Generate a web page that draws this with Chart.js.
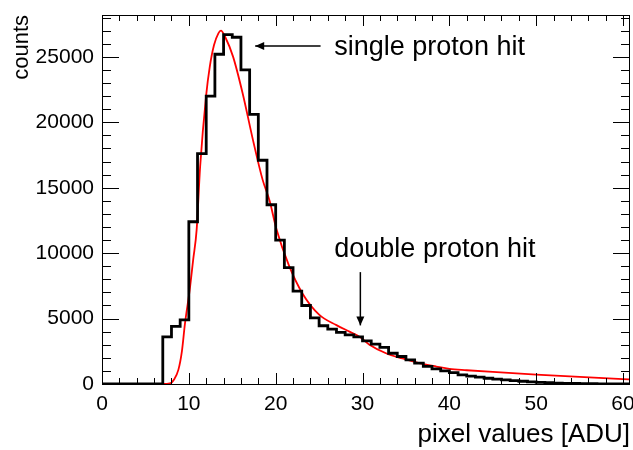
<!DOCTYPE html>
<html lang="en">
<head>
<meta charset="UTF-8">
<title>pixel values histogram</title>
<script src="https://cdn.jsdelivr.net/npm/chart.js@4.4.1/dist/chart.umd.min.js"></script>
<style>
  html, body { margin: 0; padding: 0; background: #fff; }
  #wrap { width: 633px; height: 450px; }
</style>
</head>
<body>
<div id="wrap"><canvas id="histo"></canvas></div>
<script>
// counts per 1 ADU bin, bin i covers [i, i+1)
const binCounts = [
  0, 0, 0, 0, 0, 0, 0, 3600, 4400, 4900,
  12400, 17600, 22000, 25200, 26700, 26500, 24000, 20600, 17100, 13700,
  11000, 8900, 7100, 6000, 5050, 4450, 4200, 3950, 3750, 3600,
  3300, 3050, 2800, 2350, 2100, 1850, 1600, 1350, 1150, 1000,
  870, 700, 600, 520, 440, 370, 310, 260, 210, 170,
  130, 100, 70, 50, 40, 30, 20, 15, 10, 10,
  5
];

// red fit curve
const fitX = [0, 7, 7.8, 8.3, 8.8, 9.2, 9.55, 10.1, 10.5, 10.9, 11.3, 12.0, 12.4, 12.9, 13.4, 13.7,
  14.2, 15.1, 16.2, 17.4, 18.5, 19.3, 20.1, 21.5, 23.1, 25.0, 27.0, 28.5, 29.7, 30.8,
  32.7, 34.6, 36.5, 38.5, 40, 42, 45, 50, 55, 60, 61];
const fitY = [0, 0, 40, 350, 1100, 2500, 4600, 7200, 9500, 11800, 16600, 22100, 24200, 25900, 26800, 27000,
  26500, 25000, 22200, 18600, 15600, 14000, 11800, 9100, 6900, 5300, 4500, 4000, 3600, 3000,
  2350, 1950, 1600, 1330, 1150, 1050, 920, 720, 540, 370, 340];

const xTicks = [0, 10, 20, 30, 40, 50, 60];
const yTicks = [0, 5000, 10000, 15000, 20000, 25000];
const xMax = 60.8;
const yMax = 28200;

const annots = [
  { text: 'single proton hit', x: 26.75, y: 25150 },
  { text: 'double proton hit', x: 26.75, y: 9700 }
];
const arrows = [
  { x0: 25.17, y0: 25825, x1: 17.64, y1: 25825 },
  { x0: 29.75, y0: 8550, x1: 29.75, y1: 4480 }
];

const FONT = "'Liberation Sans', Arial, sans-serif";

const histPoints = binCounts.map((c, i) => ({ x: i, y: c }));
histPoints.push({ x: binCounts.length, y: binCounts[binCounts.length - 1] });
const fitPoints = fitX.map((x, i) => ({ x: x, y: fitY[i] }));

function drawArrowHead(ctx, x0, y0, x1, y1, len, half) {
  const a = Math.atan2(y1 - y0, x1 - x0);
  ctx.beginPath();
  ctx.moveTo(x1, y1);
  ctx.lineTo(x1 - len * Math.cos(a) + half * Math.sin(a), y1 - len * Math.sin(a) - half * Math.cos(a));
  ctx.lineTo(x1 - len * Math.cos(a) - half * Math.sin(a), y1 - len * Math.sin(a) + half * Math.cos(a));
  ctx.closePath();
  ctx.fill();
}

// ROOT style frame: box with inward ticks on all four sides, plus the text labels
const framePlugin = {
  id: 'frame',
  afterDatasetsDraw(chart) {
    const ctx = chart.ctx;
    const area = chart.chartArea;
    const xs = chart.scales.x, ys = chart.scales.y;
    ctx.save();
    ctx.strokeStyle = '#000';
    ctx.lineWidth = 1;
    ctx.strokeRect(area.left + 0.5, area.top + 0.5, area.right - area.left - 1, area.bottom - area.top);

    ctx.beginPath();
    for (let v = 0; v <= xMax; v += 2) {
      const px = Math.round(xs.getPixelForValue(v)) + 0.5;
      const len = v % 10 === 0 ? 11 : 6;
      ctx.moveTo(px, area.bottom); ctx.lineTo(px, area.bottom - len);
      ctx.moveTo(px, area.top); ctx.lineTo(px, area.top + len);
    }
    for (let v = 0; v <= yMax; v += 1000) {
      const py = Math.round(ys.getPixelForValue(v)) + 0.5;
      const len = v % 5000 === 0 ? 17 : 9;
      ctx.moveTo(area.left, py); ctx.lineTo(area.left + len, py);
      ctx.moveTo(area.right, py); ctx.lineTo(area.right - len, py);
    }
    ctx.stroke();

    // annotations
    ctx.fillStyle = '#000';
    ctx.font = '27px ' + FONT;
    ctx.textBaseline = 'alphabetic';
    ctx.textAlign = 'left';
    annots.forEach(a => {
      ctx.fillText(a.text, xs.getPixelForValue(a.x), ys.getPixelForValue(a.y));
    });
    ctx.lineWidth = 1.5;
    arrows.forEach(a => {
      const x0 = xs.getPixelForValue(a.x0), y0 = ys.getPixelForValue(a.y0);
      const x1 = xs.getPixelForValue(a.x1), y1 = ys.getPixelForValue(a.y1);
      ctx.beginPath();
      ctx.moveTo(x0, y0); ctx.lineTo(x1, y1);
      ctx.stroke();
      drawArrowHead(ctx, x0, y0, x1, y1, 9, 4);
    });
    ctx.restore();
  }
};

function noPad(s) {
  s.paddingTop = 0; s.paddingBottom = 0; s.paddingLeft = 0; s.paddingRight = 0;
}

new Chart(document.getElementById('histo'), {
  type: 'line',
  data: {
    datasets: [
      {
        label: 'data',
        data: histPoints,
        stepped: 'before',
        borderColor: '#000',
        borderWidth: 2.8,
        pointRadius: 0,
        fill: false
      },
      {
        label: 'fit',
        data: fitPoints,
        borderColor: '#ff0000',
        borderWidth: 1.8,
        pointRadius: 0,
        cubicInterpolationMode: 'monotone',
        fill: false
      }
    ]
  },
  options: {
    responsive: true,
    maintainAspectRatio: false,
    animation: false,
    layout: { padding: { top: 15, right: 3, left: 0, bottom: 0 } },
    plugins: { legend: { display: false }, tooltip: { enabled: false } },
    scales: {
      x: {
        type: 'linear',
        min: 0,
        max: xMax,
        grid: { display: false, drawTicks: false },
        border: { display: false },
        afterBuildTicks: s => { s.ticks = xTicks.map(v => ({ value: v })); },
        ticks: {
          padding: 8,
          color: '#000',
          font: { family: FONT, size: 21 },
          callback: v => String(v)
        },
        title: {
          display: true,
          text: 'pixel values [ADU]',
          align: 'end',
          color: '#000',
          padding: { top: 0, bottom: 0 },
          font: { family: FONT, size: 26 }
        },
        afterFit: s => { s.height = 66; noPad(s); }
      },
      y: {
        min: 0,
        max: yMax,
        grid: { display: false, drawTicks: false },
        border: { display: false },
        afterBuildTicks: s => { s.ticks = yTicks.map(v => ({ value: v })); },
        ticks: {
          padding: 8,
          color: '#000',
          font: { family: FONT, size: 21 },
          callback: v => String(v)
        },
        title: {
          display: true,
          text: 'counts',
          align: 'end',
          color: '#000',
          padding: { top: 9, bottom: 0 },
          font: { family: FONT, size: 22 }
        },
        afterFit: s => { s.width = 102; noPad(s); }
      }
    }
  },
  plugins: [framePlugin]
});
</script>
</body>
</html>
